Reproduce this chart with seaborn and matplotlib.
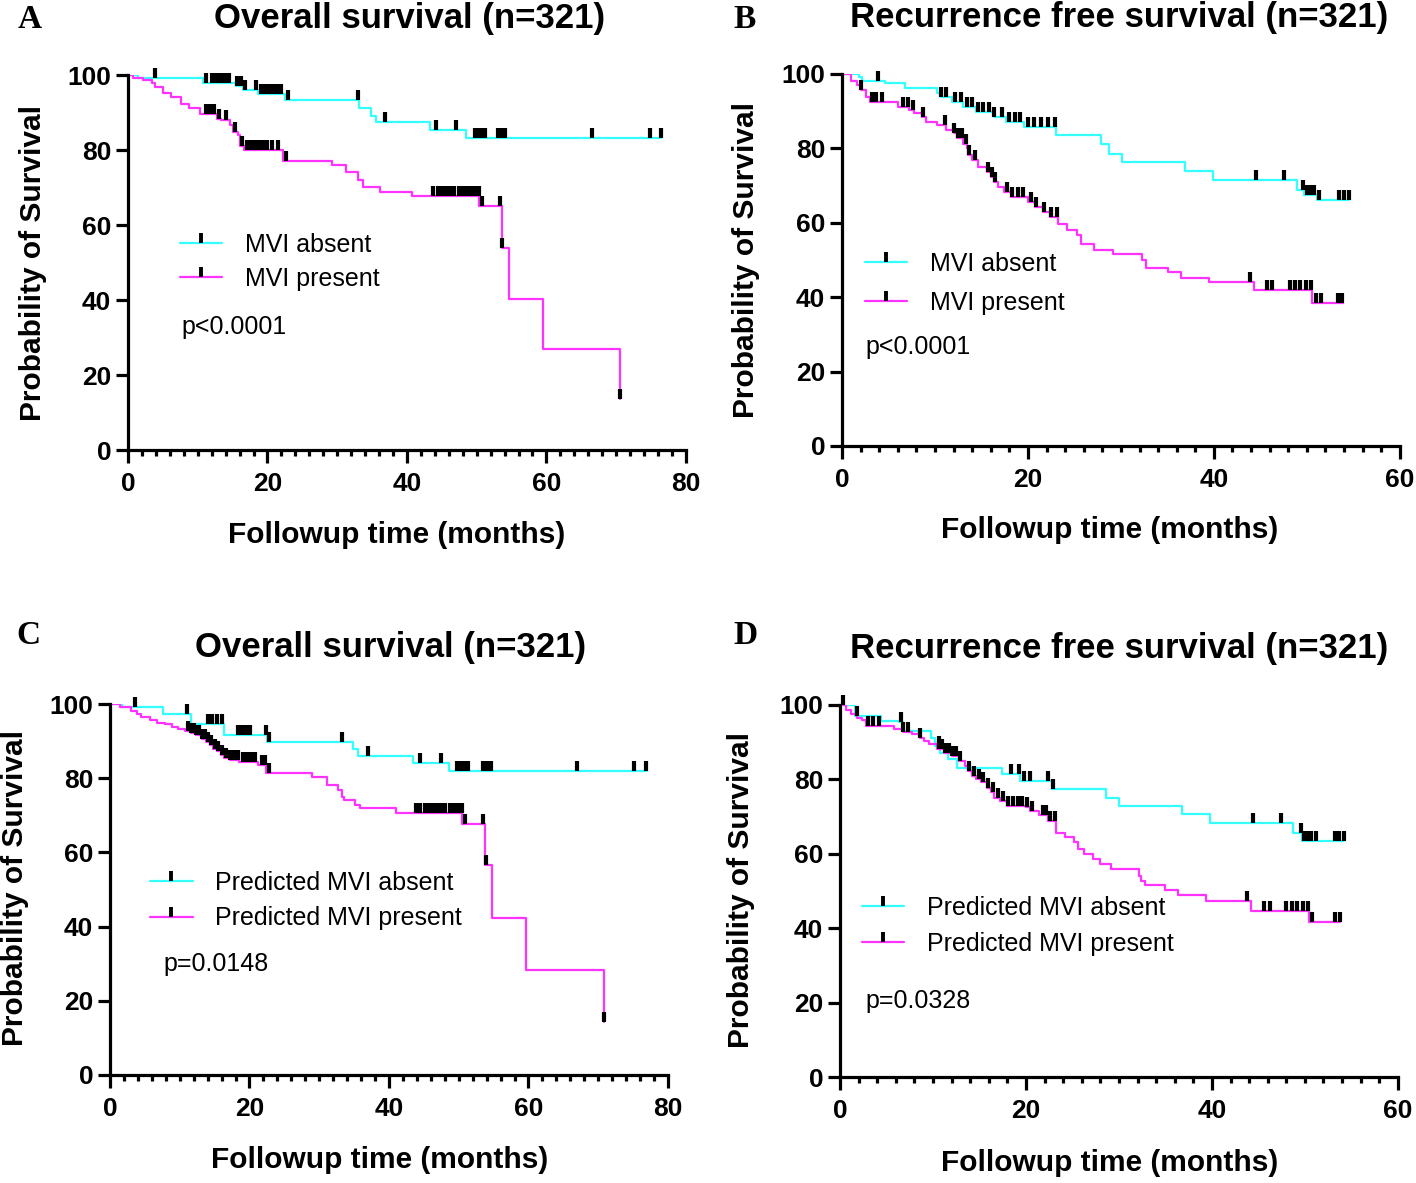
import numpy as np
import seaborn as sns
import matplotlib.pyplot as plt
from matplotlib.lines import Line2D
from matplotlib.ticker import MultipleLocator

# Kaplan-Meier curves: step times (months), survival (%) after each step,
# and censoring times (ticks drawn on the curve)

# A: overall survival, MVI absent / present
a_abs_t = [0, 1.5, 10.8, 15.5, 16.5, 18.6, 22.5, 33.1, 34.8, 35.5, 43.3, 48.4, 76.4]
a_abs_s = [100, 99.3, 97.8, 97.0, 96.1, 94.9, 93.4, 91.2, 89.2, 87.4, 85.3, 83.1, 83.1]
a_abs_c = [3.8, 11.2, 12.0, 12.5, 13.0, 13.5, 14.0, 14.5, 15.6, 16.2, 16.8, 18.4, 19.0, 19.6,
           20.2, 20.8, 21.4, 22.0, 22.9, 33.0, 36.8, 44.2, 47.1, 49.7, 50.2, 50.7, 51.2, 53.1,
           53.6, 54.1, 66.6, 74.9, 76.4]
a_pre_t = [0, 0.7, 2.2, 3.4, 3.9, 5.0, 6.2, 7.6, 8.8, 10.3, 12.7, 13.4, 14.6, 15.1, 15.8, 16.0,
           16.7, 22.2, 29.2, 31.3, 33.0, 33.7, 36.1, 40.7, 50.4, 53.6, 54.7, 59.5, 70.6]
a_pre_s = [100, 99.1, 98.7, 97.8, 96.9, 95.1, 94.2, 92.4, 91.1, 89.7, 88.4, 88.0, 86.6, 84.8,
           83.9, 81.2, 79.9, 77.2, 75.9, 74.1, 71.9, 70.1, 68.9, 67.8, 65.1, 53.9, 40.4, 27.0, 13.5]
a_pre_c = [11.2, 11.8, 12.3, 13.0, 14.1, 15.4, 16.4, 17.0, 17.6, 18.2, 18.8, 19.4, 20.0, 20.6,
           21.5, 22.6, 43.8, 44.4, 45.0, 45.6, 46.2, 46.8, 47.4, 48.0, 48.6, 49.2, 49.8, 50.3,
           50.7, 53.4, 53.7, 70.6]

# B: recurrence free survival, MVI absent / present
b_abs_t = [0, 1.8, 2.2, 4.6, 6.8, 10.2, 10.6, 11.8, 13.0, 14.4, 16.4, 17.6, 19.6, 23.0, 27.9,
           28.7, 30.1, 36.9, 39.9, 48.9, 49.7, 51.1, 54.5]
b_abs_s = [100, 99.3, 98.2, 97.5, 96.1, 94.8, 93.9, 92.5, 91.2, 89.8, 88.5, 87.2, 85.8, 83.6,
           81.3, 78.6, 76.4, 73.9, 71.4, 68.7, 67.4, 66.0, 66.0]
b_abs_c = [3.9, 10.6, 11.2, 12.2, 12.8, 13.4, 14.0, 14.6, 15.2, 15.8, 16.4, 17.2, 18.0, 18.6,
           19.2, 20.0, 20.6, 21.4, 22.2, 22.9, 44.5, 47.5, 49.6, 50.0, 50.4, 50.8, 51.3, 53.5,
           54.0, 54.5]
b_pre_t = [0, 1.0, 1.6, 2.0, 2.6, 3.0, 6.0, 7.2, 7.8, 8.6, 9.0, 10.2, 11.2, 12.0, 12.4, 13.0,
           13.4, 13.6, 14.0, 14.6, 15.6, 16.0, 16.4, 16.8, 17.4, 18.2, 20.0, 20.8, 21.6, 22.4,
           23.2, 24.2, 25.3, 25.7, 27.1, 29.1, 32.3, 32.7, 35.1, 36.5, 39.5, 44.3, 50.5, 53.9]
b_pre_s = [100, 98.2, 96.9, 95.7, 93.9, 92.5, 91.2, 90.3, 89.4, 88.5, 87.2, 86.3, 84.9, 84.0,
           82.7, 81.3, 80.0, 78.2, 76.8, 75.0, 73.7, 72.3, 71.0, 69.6, 68.3, 66.9, 65.6, 64.2,
           62.9, 61.5, 59.7, 58.0, 56.6, 54.4, 52.7, 51.5, 49.9, 47.9, 46.7, 45.2, 44.0, 41.8,
           38.4, 38.4]
b_pre_c = [2.0, 3.2, 3.7, 4.3, 6.6, 7.1, 7.6, 8.7, 11.1, 12.1, 12.5, 12.9, 13.3, 13.7, 14.3,
           15.7, 16.1, 16.5, 17.7, 18.3, 18.9, 19.5, 20.3, 20.9, 21.7, 22.5, 23.1, 43.9, 45.7,
           46.2, 48.2, 48.7, 49.3, 49.9, 50.4, 51.0, 51.5, 53.4, 53.8]

# C: overall survival, predicted MVI absent / present
c_abs_t = [0, 1.7, 7.6, 11.6, 16.4, 22.5, 34.8, 35.6, 43.5, 48.6, 77.0]
c_abs_s = [100, 99.3, 97.3, 94.6, 91.6, 89.8, 87.8, 86.0, 84.2, 82.0, 82.0]
c_abs_c = [3.6, 11.0, 14.0, 14.6, 15.3, 16.1, 18.3, 18.9, 19.5, 20.1, 22.3, 22.8, 33.2, 37.0,
           44.4, 47.4, 49.8, 50.3, 50.9, 51.4, 53.5, 54.0, 54.6, 66.9, 75.2, 76.8]
c_pre_t = [0, 1.4, 3.0, 3.8, 4.4, 5.7, 6.8, 7.9, 8.9, 9.7, 10.8, 11.6, 12.4, 13.2, 13.7, 14.3,
           14.8, 15.3, 15.9, 16.4, 17.2, 18.5, 21.2, 22.3, 29.0, 31.1, 32.7, 33.2, 33.5, 35.1,
           35.9, 41.0, 50.5, 53.8, 54.8, 59.7, 70.9]
c_pre_s = [100, 99.1, 98.2, 97.3, 96.6, 95.7, 95.0, 94.5, 93.9, 93.2, 92.7, 92.3, 91.6, 90.7,
           89.8, 88.9, 88.0, 87.2, 86.3, 85.5, 84.9, 84.5, 83.6, 81.5, 80.4, 78.2, 76.8, 75.0,
           74.1, 72.8, 71.9, 70.7, 67.7, 56.6, 42.4, 28.3, 14.4]
c_pre_c = [11.2, 11.6, 12.0, 12.4, 12.8, 13.2, 13.6, 14.0, 14.5, 15.0, 15.5, 16.0, 16.6, 17.2,
           17.8, 18.4, 19.0, 19.6, 20.2, 20.8, 21.8, 22.2, 22.8, 43.9, 44.5, 45.1, 45.7, 46.3,
           46.9, 47.5, 48.1, 48.7, 49.3, 49.9, 50.4, 50.9, 53.5, 53.9, 70.9]

# D: recurrence free survival, predicted MVI absent / present
d_abs_t = [0, 1.6, 4.4, 6.4, 6.8, 9.8, 10.2, 10.8, 11.6, 12.6, 17.4, 19.4, 22.8, 28.6, 30.0,
           36.8, 39.8, 48.7, 49.7, 54.2]
d_abs_s = [100, 97.0, 95.7, 95.3, 93.0, 91.2, 89.0, 87.2, 85.4, 83.0, 81.4, 79.6, 77.4, 75.1,
           72.9, 70.7, 68.4, 65.7, 63.5, 63.5]
d_abs_c = [0.3, 1.8, 6.6, 10.7, 18.4, 19.2, 19.8, 20.4, 22.4, 22.9, 44.4, 47.4, 49.6, 49.9,
           50.3, 50.7, 51.2, 53.2, 53.7, 54.2]
d_pre_t = [0, 0.6, 1.2, 1.8, 2.4, 2.8, 5.8, 6.8, 7.8, 8.6, 9.0, 9.6, 10.4, 11.2, 12.0, 12.8,
           13.4, 13.8, 14.2, 14.6, 15.2, 15.8, 16.2, 16.6, 17.2, 18.0, 20.0, 20.4, 21.4, 22.4,
           23.2, 24.2, 25.2, 25.6, 26.2, 27.2, 28.0, 29.2, 32.2, 32.4, 32.8, 35.0, 36.4, 39.4,
           44.2, 50.4, 53.8]
d_pre_s = [100, 98.6, 97.5, 96.6, 95.9, 94.4, 93.5, 92.6, 92.1, 91.2, 90.3, 89.4, 88.1, 87.2,
           86.3, 85.0, 83.6, 82.3, 80.9, 80.1, 79.2, 77.8, 76.5, 75.1, 74.2, 72.9, 72.5, 71.6,
           70.5, 68.9, 65.7, 64.4, 63.1, 61.3, 59.9, 58.6, 57.2, 55.9, 54.1, 52.8, 51.7, 50.3,
           49.0, 47.4, 44.7, 41.6, 41.6]
d_pre_c = [3.0, 3.6, 4.2, 6.8, 7.3, 8.6, 10.6, 11.0, 11.3, 11.7, 12.1, 12.5, 12.9, 13.9, 14.4,
           14.9, 15.4, 15.9, 16.5, 17.0, 17.5, 18.1, 18.6, 19.1, 19.6, 20.1, 20.6, 21.8, 22.2,
           22.6, 23.1, 43.8, 45.6, 46.2, 48.0, 48.6, 49.2, 49.8, 50.3, 50.8, 53.2, 53.8]

titles = ['Overall survival (n=321)', 'Recurrence free survival (n=321)',
          'Overall survival (n=321)', 'Recurrence free survival (n=321)']
letters = ['A', 'B', 'C', 'D']
labels_ab = ['MVI absent', 'MVI present']
labels_cd = ['Predicted MVI absent', 'Predicted MVI present']
pvals = ['p<0.0001', 'p<0.0001', 'p=0.0148', 'p=0.0328']
xmax = [80, 60, 80, 60]

CYAN = '#33ffff'
MAGENTA = '#ff33ff'

sns.set_style('ticks')
plt.rcParams['font.family'] = ['Liberation Sans', 'DejaVu Sans']
plt.rcParams.update({'text.color': 'black', 'axes.labelcolor': 'black',
                     'xtick.color': 'black', 'ytick.color': 'black',
                     'axes.edgecolor': 'black'})

fig = plt.figure(figsize=(14.16, 11.83), dpi=100)
# axes boxes in figure fractions
boxes = [(0.0904, 0.6196, 0.394, 0.317),
         (0.5946, 0.6230, 0.394, 0.3145),
         (0.0777, 0.0913, 0.394, 0.3136),
         (0.5932, 0.0896, 0.394, 0.3145)]
leg_pos = [(0.093, 0.580), (0.041, 0.522), (0.072, 0.551), (0.039, 0.486)]
leg_space = [0.42, 0.6, 0.47, 0.47]
p_pos = [(0.095, 0.328), (0.043, 0.266), (0.095, 0.299), (0.045, 0.204)]
ylab_pos = [(-0.145, 0.5), (-0.147, 0.5), (-0.145, 0.504), (-0.152, 0.503)]
xlab_pos = [(0.482, -0.19), (0.48, -0.188), (0.484, -0.191), (0.484, -0.194)]
title_x = [0.505, 0.497, 0.502, 0.50]
letter_xy = [(30, 20), (745, 20), (28, 635), (745, 635)]

curves = [
    ((a_abs_t, a_abs_s, a_abs_c), (a_pre_t, a_pre_s, a_pre_c)),
    ((b_abs_t, b_abs_s, b_abs_c), (b_pre_t, b_pre_s, b_pre_c)),
    ((c_abs_t, c_abs_s, c_abs_c), (c_pre_t, c_pre_s, c_pre_c)),
    ((d_abs_t, d_abs_s, d_abs_c), (d_pre_t, d_pre_s, d_pre_c)),
]


def km(ax, t, s, c, color):
    sns.lineplot(x=t, y=s, drawstyle='steps-post', estimator=None, sort=False,
                 color=color, linewidth=1.6, ax=ax, zorder=2)
    idx = np.searchsorted(t, c, side='right') - 1
    cy = np.asarray(s)[idx]
    sns.scatterplot(x=c, y=cy, marker=2, color='black', s=50, linewidth=3.0,
                    ax=ax, zorder=3, clip_on=False)


for i in range(4):
    ax = fig.add_axes(boxes[i])
    (t1, s1, c1), (t2, s2, c2) = curves[i]
    km(ax, t1, s1, c1, CYAN)
    km(ax, t2, s2, c2, MAGENTA)

    ax.set_xlim(0, xmax[i])
    ax.set_ylim(0, 100)
    ax.set_xticks(range(0, xmax[i] + 1, 20))
    ax.set_yticks(range(0, 101, 20))
    ax.xaxis.set_minor_locator(MultipleLocator(2))
    sns.despine(ax=ax)
    for sp in ['left', 'bottom']:
        ax.spines[sp].set_linewidth(2.3)
    ax.tick_params(which='major', direction='out', length=9, width=2.3, labelsize=19)
    ax.tick_params(axis='x', which='major', pad=7)
    ax.tick_params(axis='y', which='major', pad=3)
    ax.tick_params(which='minor', direction='out', length=4.5, width=2.3)
    for lab in ax.get_xticklabels() + ax.get_yticklabels():
        lab.set_fontweight('bold')

    ax.set_xlabel('Followup time (months)', fontsize=21.5, fontweight='bold')
    ax.set_ylabel('Probability of Survival', fontsize=21.5, fontweight='bold')
    ax.xaxis.set_label_coords(*xlab_pos[i])
    ax.yaxis.set_label_coords(*ylab_pos[i])

    ax.text(title_x[i], 1.152, titles[i], transform=ax.transAxes, ha='center', va='center',
            fontsize=25, fontweight='bold')

    names = labels_ab if i < 2 else labels_cd
    handles = [Line2D([], [], color=col, lw=1.6, marker=2, markersize=7,
                      markeredgecolor='black', markeredgewidth=2.8)
               for col in (CYAN, MAGENTA)]
    ax.legend(handles, names, loc='upper left', bbox_to_anchor=leg_pos[i], frameon=False,
              fontsize=18, handlelength=1.7, handletextpad=0.9, labelspacing=leg_space[i],
              borderpad=0, borderaxespad=0, numpoints=1)
    ax.text(p_pos[i][0], p_pos[i][1], pvals[i], transform=ax.transAxes, ha='left',
            va='center', fontsize=18)

    lx, ly = letter_xy[i]
    fig.text(lx / 1416, 1 - ly / 1183, letters[i], ha='center', va='center',
             fontsize=24, fontweight='bold', family='Liberation Serif')

fig.savefig('out.png', dpi=100)
